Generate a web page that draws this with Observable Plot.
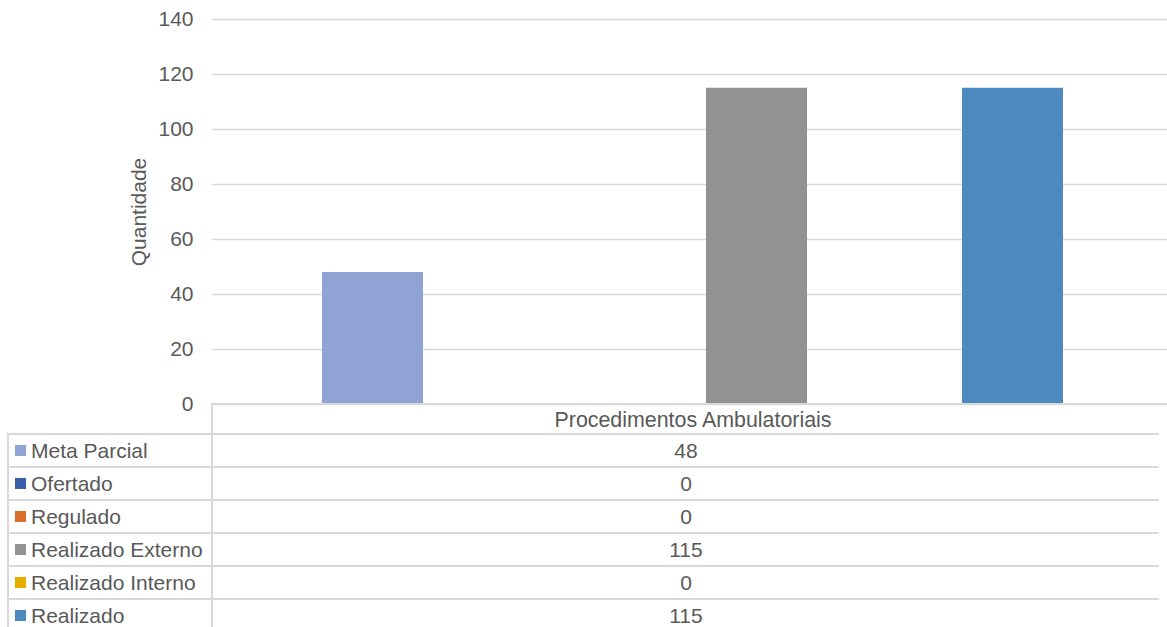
<!DOCTYPE html>
<html><head><meta charset="utf-8">
<script src="https://cdn.jsdelivr.net/npm/d3@7"></script>
<script src="https://cdn.jsdelivr.net/npm/@observablehq/plot@0.6"></script>
<style>
body{margin:0;background:#fff;font-family:"Liberation Sans",Arial,sans-serif;color:#595959;}
#wrap{position:relative;width:1167px;height:627px;overflow:hidden;background:#fff;}
#chart{position:absolute;left:0;top:0;}
.ylab{position:absolute;left:139px;top:212px;transform:translate(-50%,-50%) rotate(-90deg);font-size:21px;white-space:nowrap;}
.cell{position:absolute;box-sizing:border-box;border-top:2px solid #d9d9d9;border-left:2px solid #d9d9d9;font-size:21px;display:flex;align-items:center;white-space:nowrap;}
.sw{width:11px;height:11px;margin-left:6px;margin-right:5px;flex:none;}
.val{justify-content:center;}
</style></head><body><div id="wrap"><div id="chart"></div></div>
<script>
const category = "Procedimentos Ambulatoriais";
const series = ["Meta Parcial","Ofertado","Regulado","Realizado Externo","Realizado Interno","Realizado"];
const values = [48, 0, 0, 115, 0, 115];
const colors = ["#8FA4D4","#3A5FAA","#D7702D","#929292","#E5AD00","#4E8ABF"];
const yTicks = [0, 20, 40, 60, 80, 100, 120, 140];
const yLabel = "Quantidade";

const data = series.map((s, i) => ({series: s, value: values[i], category}));

const plot = Plot.plot({
  width: 1167,
  height: 420,
  marginTop: 19,
  marginBottom: 16,
  marginLeft: 212,
  marginRight: 0,
  style: {fontFamily: "Liberation Sans, Arial, sans-serif", fontSize: "21px", color: "#595959", background: "transparent"},
  x: {domain: series, range: [309, 1077], paddingInner: 0.21, paddingOuter: 0.105, axis: null},
  y: {domain: [0, 140], ticks: yTicks},
  color: {domain: series, range: colors},
  marks: [
    Plot.gridY(yTicks, {stroke: "#d9d9d9", strokeOpacity: 1, strokeWidth: 1.5}),
    Plot.barY(data, {x: "series", y: "value", fill: "series"}),
    Plot.axisY(yTicks, {tickSize: 0, tickPadding: 19, label: null, fill: "#595959", fontSize: 21})
  ]
});
document.getElementById("chart").appendChild(plot);

const wrap = document.getElementById("wrap");
const yl = document.createElement("div");
yl.className = "ylab"; yl.textContent = yLabel; wrap.appendChild(yl);

function cell(cls, left, top, width, height) {
  const d = document.createElement("div");
  d.className = "cell " + cls;
  Object.assign(d.style, {left: left + "px", top: top + "px", width: width + "px", height: height + "px"});
  wrap.appendChild(d);
  return d;
}
const hdr = cell("val", 211, 403, 962, 32);
hdr.style.fontSize = "21.4px";
hdr.textContent = category;
series.forEach((s, i) => {
  const top = 433 + 33 * i;
  const lab = cell("", 7, top, 205, 33);
  const sw = document.createElement("span"); sw.className = "sw"; sw.style.background = colors[i];
  const tx = document.createElement("span"); tx.textContent = s;
  lab.appendChild(sw); lab.appendChild(tx);
  const v = cell("val", 211, top, 948, 33);
  v.textContent = String(values[i]);
});
</script></body></html>
